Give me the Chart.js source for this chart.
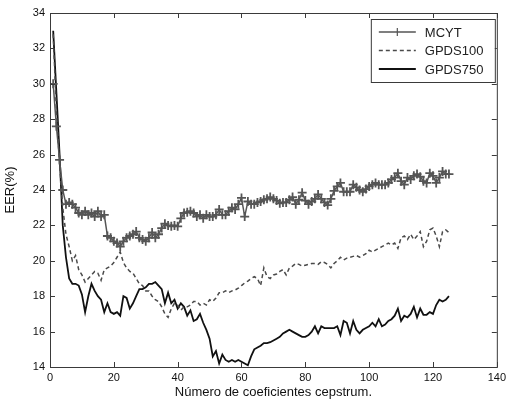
<!DOCTYPE html>
<html>
<head>
<meta charset="utf-8">
<script src="https://cdn.jsdelivr.net/npm/chart.js@4/dist/chart.umd.min.js"></script>
<style>
  html, body { margin: 0; padding: 0; background: #fff; }
  canvas { display: block; }
</style>
</head>
<body>
<canvas id="eerChart" width="510" height="403"></canvas>
<script>
// Number of cepstral coefficients (x axis)
const coefs = [
  1, 2, 3, 4, 5, 6, 7, 8, 9, 10, 11, 12, 13, 14, 15, 16, 17, 18, 19, 20,
  21, 22, 23, 24, 25, 26, 27, 28, 29, 30, 31, 32, 33, 34, 35, 36, 37, 38, 39, 40,
  41, 42, 43, 44, 45, 46, 47, 48, 49, 50, 51, 52, 53, 54, 55, 56, 57, 58, 59, 60,
  61, 62, 63, 64, 65, 66, 67, 68, 69, 70, 71, 72, 73, 74, 75, 76, 77, 78, 79, 80,
  81, 82, 83, 84, 85, 86, 87, 88, 89, 90, 91, 92, 93, 94, 95, 96, 97, 98, 99, 100,
  101, 102, 103, 104, 105, 106, 107, 108, 109, 110, 111, 112, 113, 114, 115, 116, 117, 118, 119, 120,
  121, 122, 123, 124, 125
];

// EER (%) per database
const mcyt = [
  30.0, 27.6, 25.7, 24.0, 23.2, 23.3, 23.2, 23.0, 22.7, 22.6, 22.8, 22.6, 22.7, 22.5, 22.8, 22.5, 22.6, 21.4, 21.3, 21.1,
  21.0, 20.8, 21.1, 21.3, 21.4, 21.5, 21.65, 21.3, 21.2, 21.1, 21.3, 21.6, 21.3, 21.5, 21.85, 22.1, 22.0, 21.95, 22.0, 21.95,
  22.4, 22.7, 22.75, 22.8, 22.7, 22.5, 22.6, 22.4, 22.6, 22.5, 22.5, 22.6, 22.9, 22.6, 22.6, 22.8, 23.0, 22.9, 23.2, 23.55,
  22.5, 23.35, 23.2, 23.2, 23.3, 23.35, 23.45, 23.5, 23.6, 23.5, 23.4, 23.25, 23.3, 23.3, 23.45, 23.6, 23.2, 23.45, 23.85, 23.4,
  23.2, 23.35, 23.5, 23.75, 23.5, 23.3, 23.15, 23.5, 23.95, 24.2, 24.4, 23.9, 23.9, 23.9, 24.3, 24.15, 24.0, 23.9, 24.05, 24.2,
  24.3, 24.4, 24.3, 24.3, 24.3, 24.4, 24.6, 24.7, 24.95, 24.5, 24.3, 24.7, 24.6, 24.8, 24.9, 24.75, 24.5, 24.4, 24.95, 24.8,
  24.4, 24.7, 25.05, 24.9, 24.9
];

const gpds100 = [
  32.8, 28.5, 25.5, 23.0, 21.5, 20.8, 20.0, 20.3, 19.5, 19.2, 18.8, 19.0, 19.2, 19.4, 19.3, 18.9, 19.5, 19.6, 19.7, 19.9,
  20.2, 20.5, 19.9, 19.6, 19.4, 19.3, 19.0, 18.7, 18.6, 18.3, 18.3, 18.0, 17.8, 17.7, 17.4, 17.0, 16.8, 17.3, 17.6, 17.5,
  17.2, 17.4, 17.4, 17.5, 17.7, 17.7, 17.5, 17.6, 17.5, 17.8, 17.7, 17.9, 18.2, 18.2, 18.3, 18.2, 18.3, 18.35, 18.45, 18.6,
  18.75, 18.85, 19.0, 19.1, 19.0, 18.6, 19.6, 19.1, 19.0, 19.2, 19.25, 19.4, 19.5, 19.2, 19.6, 19.7, 19.85, 19.8, 19.7, 19.75,
  19.8, 19.85, 19.85, 19.8, 19.95, 19.9, 19.8, 19.6, 19.85, 20.0, 20.2, 20.05, 20.15, 20.2, 20.25, 20.3, 20.2, 20.3, 20.4, 20.6,
  20.5, 20.6, 20.7, 20.8, 20.9, 21.0, 20.9, 21.0, 20.7, 21.3, 21.4, 21.2, 21.5, 21.2, 21.4, 21.65, 20.8, 21.1, 21.75, 21.85,
  21.4, 20.8, 21.65, 21.75, 21.6
];

const gpds750 = [
  33.0, 29.5, 26.0, 22.0, 20.2, 19.0, 18.7, 18.7, 18.6, 18.1, 17.1, 18.0, 18.7, 18.3, 18.0, 17.8, 17.1, 17.6, 17.1, 17.0,
  17.1, 16.9, 18.0, 17.9, 17.3, 17.6, 18.0, 18.4, 18.4, 18.5, 18.7, 18.7, 18.8, 18.6, 18.4, 17.6, 18.2, 17.6, 17.8, 17.3,
  17.6, 17.4, 16.9, 17.2, 16.6, 16.7, 17.0, 16.5, 16.1, 15.6, 14.6, 14.9, 14.2, 14.7, 14.4, 14.3, 14.4, 14.3, 14.4, 14.3,
  14.2, 14.1, 14.6, 15.0, 15.1, 15.2, 15.35, 15.35, 15.4, 15.5, 15.6, 15.7, 15.9, 16.0, 16.1, 16.0, 15.9, 15.8, 15.7, 15.7,
  15.8, 16.0, 16.3, 15.9, 16.3, 16.2, 16.2, 16.2, 16.2, 16.3, 15.8, 16.6, 16.5, 15.9, 16.6, 16.1, 15.9, 16.1, 16.2, 16.3,
  16.5, 16.3, 16.7, 16.3, 16.4, 16.6, 16.7, 16.9, 17.3, 16.6, 16.9, 16.8, 17.0, 17.4, 16.8, 17.3, 16.95, 16.95, 17.1, 17.0,
  17.5, 17.8, 17.7, 17.8, 18.0
];

const seriesNames = ['MCYT', 'GPDS100', 'GPDS750'];

const FONT = '"Liberation Sans", Arial, sans-serif';
const AXIS_COLOR = '#3a3a3a';

// MATLAB-like box with inward ticks on all four sides
const boxPlugin = {
  id: 'boxPlugin',
  afterDatasetsDraw(chart) {
    const { ctx, chartArea: a, scales } = chart;
    const len = 5;
    ctx.save();
    ctx.strokeStyle = AXIS_COLOR;
    ctx.lineWidth = 1;
    ctx.strokeRect(a.left + 0.5, a.top + 0.5, a.right - a.left, a.bottom - a.top);
    ctx.beginPath();
    scales.x.ticks.forEach(t => {
      const px = Math.round(scales.x.getPixelForValue(t.value)) + 0.5;
      ctx.moveTo(px, a.bottom); ctx.lineTo(px, a.bottom - len);
      ctx.moveTo(px, a.top); ctx.lineTo(px, a.top + len);
    });
    scales.y.ticks.forEach(t => {
      const py = Math.round(scales.y.getPixelForValue(t.value)) + 0.5;
      ctx.moveTo(a.left, py); ctx.lineTo(a.left + len, py);
      ctx.moveTo(a.right, py); ctx.lineTo(a.right - len, py);
    });
    ctx.stroke();
    ctx.restore();
  }
};

// Legend box in the top right corner of the plot
const legendPlugin = {
  id: 'boxLegend',
  afterDraw(chart) {
    const { ctx, chartArea: a } = chart;
    const x0 = a.right - 126, y0 = a.top + 6, w = 124, h = 63;
    ctx.save();
    ctx.fillStyle = '#fff';
    ctx.fillRect(x0, y0, w, h);
    ctx.strokeStyle = AXIS_COLOR;
    ctx.lineWidth = 1;
    ctx.strokeRect(x0 + 0.5, y0 + 0.5, w, h);
    ctx.font = '13px ' + FONT;
    ctx.textBaseline = 'middle';
    chart.data.datasets.forEach((ds, i) => {
      const y = y0 + 13 + i * 18.5;
      ctx.strokeStyle = ds.borderColor;
      ctx.lineWidth = ds.borderWidth;
      ctx.setLineDash(ds.borderDash || []);
      ctx.beginPath();
      ctx.moveTo(x0 + 8, y);
      ctx.lineTo(x0 + 45, y);
      ctx.stroke();
      ctx.setLineDash([]);
      if (ds.pointRadius > 0) {
        ctx.lineWidth = 1.2;
        ctx.beginPath();
        ctx.moveTo(x0 + 26.5, y - 4); ctx.lineTo(x0 + 26.5, y + 4);
        ctx.stroke();
      }
      ctx.fillStyle = '#222';
      ctx.fillText(ds.label, x0 + 54, y + 1);
    });
    ctx.restore();
  }
};

new Chart(document.getElementById('eerChart').getContext('2d'), {
  type: 'line',
  data: {
    labels: coefs,
    datasets: [
      {
        label: seriesNames[0],
        data: mcyt,
        borderColor: '#555',
        borderWidth: 1.5,
        pointStyle: 'cross',
        pointRadius: 4.5,
        pointBorderWidth: 1.8,
        pointBorderColor: '#555',
        tension: 0
      },
      {
        label: seriesNames[1],
        data: gpds100,
        borderColor: '#4a4a4a',
        borderWidth: 1.5,
        borderDash: [4, 3],
        pointRadius: 0,
        tension: 0
      },
      {
        label: seriesNames[2],
        data: gpds750,
        borderColor: '#111',
        borderWidth: 1.8,
        pointRadius: 0,
        tension: 0
      }
    ]
  },
  options: {
    responsive: false,
    animation: false,
    events: [],
    layout: { padding: { left: 0, right: 10, top: 13, bottom: 0 } },
    plugins: {
      legend: { display: false },
      tooltip: { enabled: false }
    },
    scales: {
      x: {
        type: 'linear',
        min: 0,
        max: 140,
        ticks: { stepSize: 20, color: '#111', font: { family: FONT, size: 11 }, padding: 4, maxRotation: 0 },
        grid: { display: false, drawTicks: false },
        border: { display: false },
        title: { display: true, text: 'Número de coeficientes cepstrum.', color: '#111', font: { family: FONT, size: 13 }, padding: { top: 0, bottom: 3 } },
        afterFit(scale) { scale.height = 36; }
      },
      y: {
        min: 14,
        max: 34,
        ticks: { stepSize: 2, color: '#111', font: { family: FONT, size: 11 }, padding: 5 },
        grid: { display: false, drawTicks: false },
        border: { display: false },
        title: { display: true, text: 'EER(%)', color: '#111', font: { family: FONT, size: 13 }, padding: { top: 3, bottom: 2 } },
        afterFit(scale) { scale.width = 50; }
      }
    }
  },
  plugins: [boxPlugin, legendPlugin]
});
</script>
</body>
</html>
